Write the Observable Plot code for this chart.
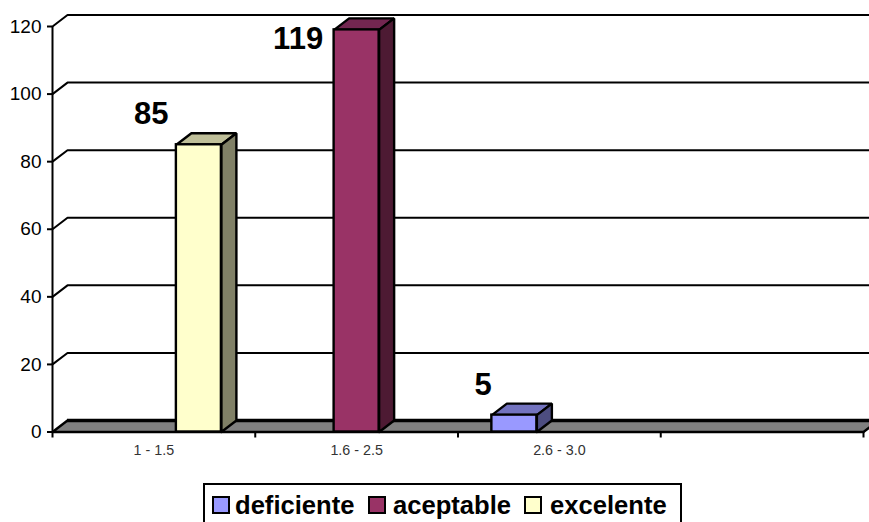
<!DOCTYPE html>
<html>
<head>
<meta charset="utf-8">
<script src="https://cdn.jsdelivr.net/npm/d3@7"></script>
<script src="https://cdn.jsdelivr.net/npm/@observablehq/plot@0.6"></script>
<style>
html,body{margin:0;padding:0;background:#fff;overflow:hidden;width:869px;height:522px}
#chart{position:absolute;left:0;top:0}
#legend{position:absolute;left:203px;top:483px;width:475px;height:45px;border:2px solid #000;background:#fff;box-sizing:content-box;
font:bold 25.6px "Liberation Sans",Arial,sans-serif;color:#000;white-space:nowrap}
#legend span.i{position:absolute;top:5px;line-height:30px}
#legend i{position:absolute;top:11px;width:14px;height:14px;border:2px solid #000}
</style>
</head>
<body>
<div id="chart"></div>
<div id="legend"></div>
<script>
const categories = ["1 - 1.5", "1.6 - 2.5", "2.6 - 3.0", ""];
const seriesNames = ["deficiente", "aceptable", "excelente"];
const seriesColors = ["#9999FF", "#993366", "#FFFFCC"];
const topColors = ["#7373BF", "#732650", "#BFBF99"];
const sideColors = ["#4D4D80", "#4D1A33", "#808066"];
const barCategory = [2, 1, 0];   // index into categories for each series
const barValues = [5, 119, 85];
const yTicks = [0, 20, 40, 60, 80, 100, 120];

// depth of the 3-D effect and bar layout, in data units
const depthX = 0.074, depthY = 3.4, barW = 0.222, gap = 0.167;
const xMax = categories.length;

const bars = barValues.map((v, s) => {
  const x1 = barCategory[s] + gap + s * barW;
  return {s, v, x1, x2: x1 + barW};
});

const grid = yTicks.slice(1).flatMap(v => [
  {v, x: 0, y: v}, {v, x: depthX, y: v + depthY}, {v, x: xMax + depthX, y: v + depthY}
]);

const polyMark = (fill, pts) => Plot.line(pts.concat([pts[0]]).map(([x, y]) => ({x, y})),
  {x: "x", y: "y", fill, stroke: "#000", strokeWidth: 2.4, strokeLinejoin: "miter"});

const barMarks = bars.flatMap(b => [
  polyMark(topColors[b.s], [[b.x1, b.v], [b.x2, b.v], [b.x2 + depthX, b.v + depthY], [b.x1 + depthX, b.v + depthY]]),
  polyMark(sideColors[b.s], [[b.x2, 0], [b.x2 + depthX, depthY], [b.x2 + depthX, b.v + depthY], [b.x2, b.v]]),
  Plot.rect([b], {x1: "x1", x2: "x2", y1: () => 0, y2: "v", fill: seriesColors[b.s], stroke: "#000", strokeWidth: 2.4})
]);

// nudges of the value labels: [dx of right end, dy of baseline] relative to the bar's top-left corner
const labelNudges = [[0, -19], [-11, 20], [-8, -20]];
const labelMarks = bars.map(b => Plot.text([b], {
  x: "x1", y: "v", text: d => String(d.v), textAnchor: "end", lineAnchor: "bottom",
  dx: labelNudges[b.s][0], dy: labelNudges[b.s][1] - 1,
  fontSize: 31, fontWeight: "bold", fill: "#000"
}));

const chart = Plot.plot({
  width: 869, height: 484,
  marginLeft: 52, marginRight: 6, marginTop: 26, marginBottom: 52.5,
  style: {fontFamily: '"Liberation Sans",Arial,sans-serif', background: "transparent", overflow: "visible"},
  x: {type: "linear", domain: [0, xMax]},
  y: {type: "linear", domain: [0, 120]},
  marks: [
    Plot.line(grid, {x: "x", y: "y", z: "v", stroke: "#000", strokeWidth: 2}),
    polyMark("#808080", [[0, 0], [xMax, 0], [xMax + depthX, depthY], [depthX, depthY]]),
    Plot.ruleY([depthY], {x1: () => depthX, x2: () => xMax + depthX, stroke: "#000", strokeWidth: 3.5}),
    ...barMarks,
    Plot.ruleX([0], {y1: () => 0, y2: () => 120, stroke: "#000", strokeWidth: 2}),
    Plot.axisY({ticks: yTicks, tickSize: 5, tickPadding: 6, label: null, fontSize: 19, stroke: "#000", strokeWidth: 2, fill: "#000"}),
    Plot.axisX({ticks: [0, 1, 2, 3, 4], tickSize: 6, tickFormat: () => "", label: null, stroke: "#000", strokeWidth: 2}),
    Plot.axisX({ticks: categories.map((c, i) => i + 0.5).filter((_, i) => categories[i]), tickSize: 0, tickPadding: 13, tickFormat: d => categories[Math.floor(d)], label: null, fontSize: 14.3, fill: "#333"}),
    ...labelMarks
  ]
});
document.getElementById("chart").append(chart);

const lg = document.getElementById("legend");
const swatchLeft = [7, 163, 319], labelLeft = [30, 188, 345];
seriesNames.forEach((n, i) => {
  const sw = document.createElement("i");
  sw.style.left = swatchLeft[i] + "px";
  sw.style.background = seriesColors[i];
  lg.append(sw);
  const t = document.createElement("span");
  t.className = "i";
  t.style.left = labelLeft[i] + "px";
  t.textContent = n;
  lg.append(t);
});
</script>
</body>
</html>
